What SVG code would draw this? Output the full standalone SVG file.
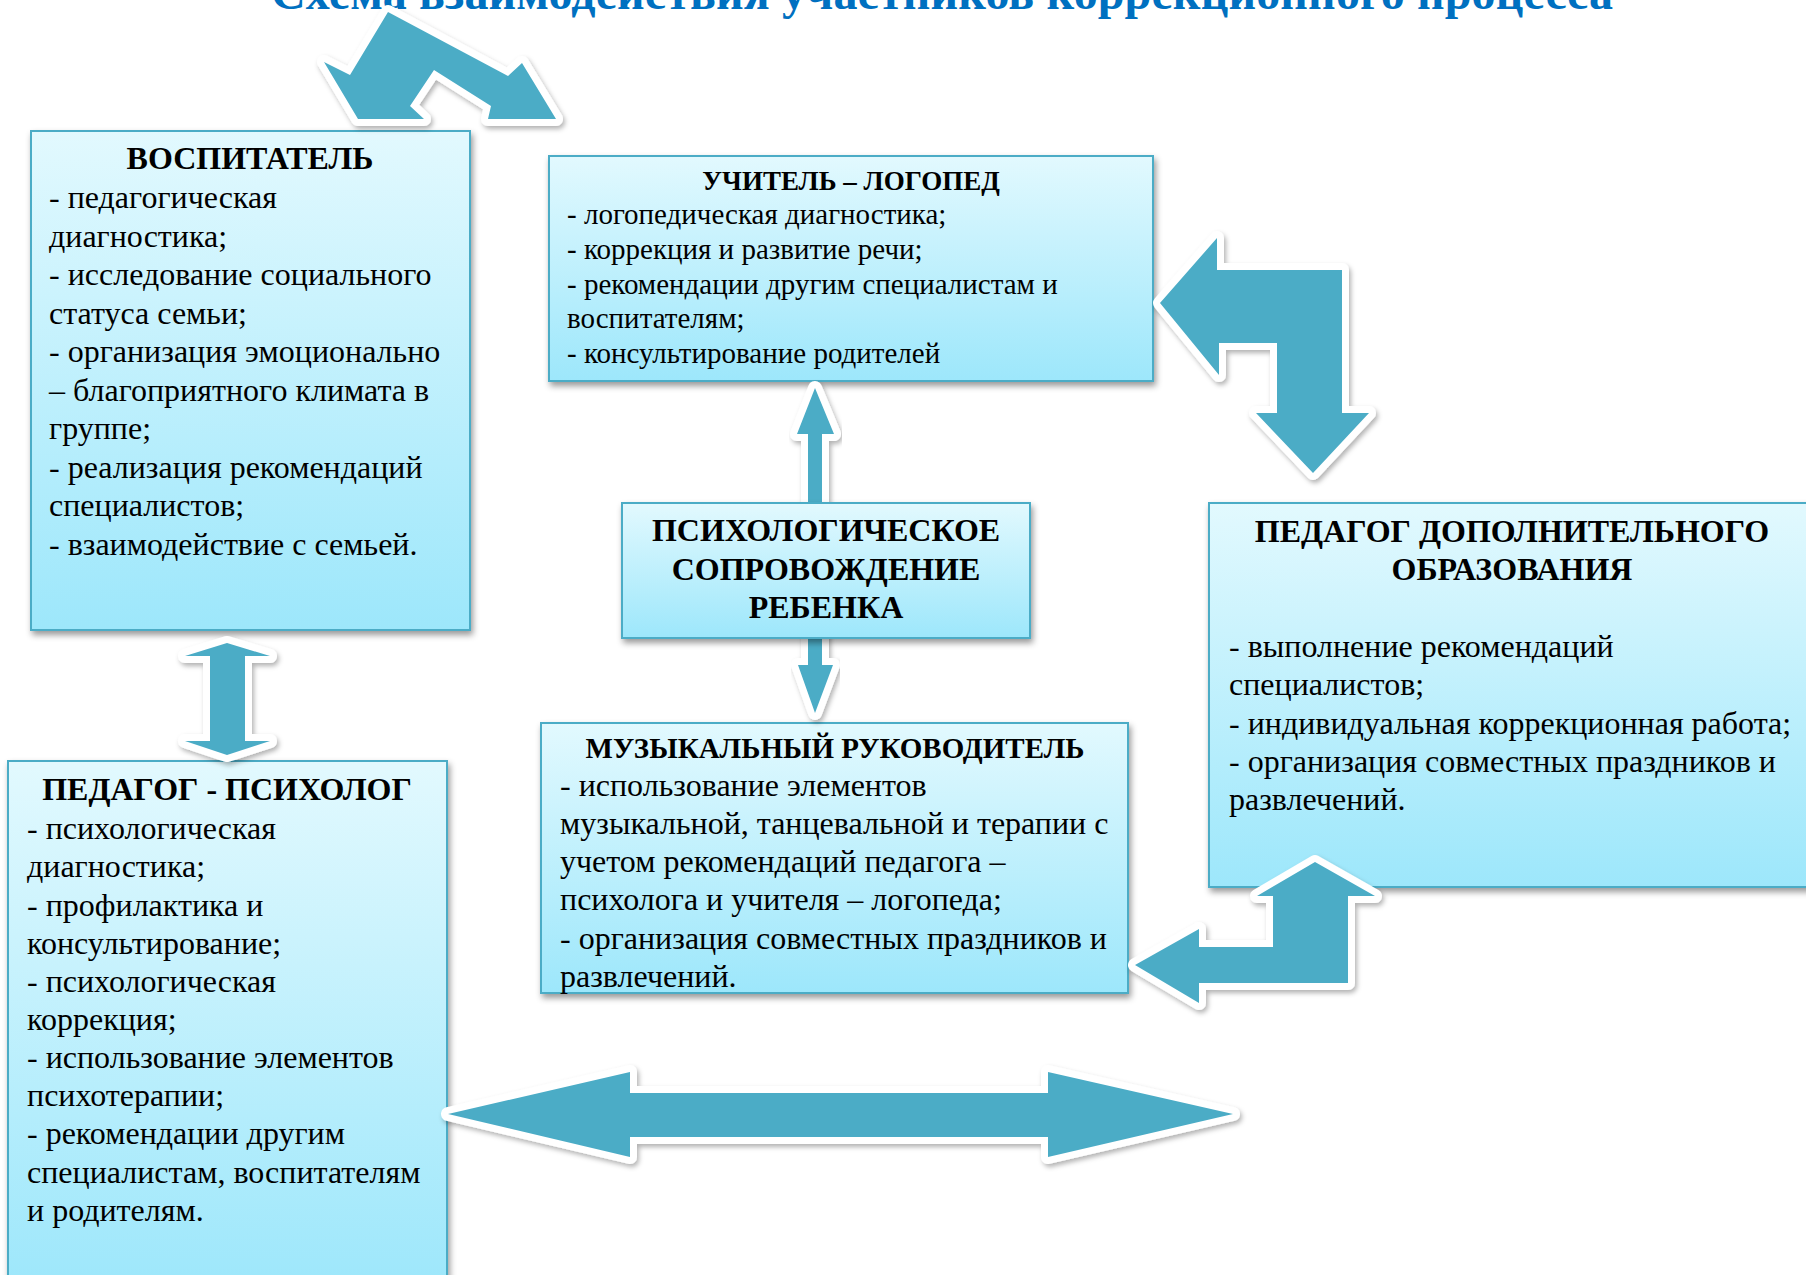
<svg xmlns="http://www.w3.org/2000/svg" width="1806" height="1275" viewBox="0 0 1806 1275">
<defs>
<linearGradient id="bg" x1="0" y1="0" x2="0" y2="1">
<stop offset="0" stop-color="#e2f9fe"/>
<stop offset="1" stop-color="#9de7fb"/>
</linearGradient>
<filter id="bs" x="-10%" y="-10%" width="120%" height="120%">
<feDropShadow dx="2" dy="4" stdDeviation="3" flood-color="#000" flood-opacity="0.4"/>
</filter>
<filter id="as" x="-20%" y="-20%" width="140%" height="140%">
<feDropShadow dx="2" dy="3" stdDeviation="2.5" flood-color="#000" flood-opacity="0.3"/>
</filter>
</defs>
<style>
.box{fill:url(#bg);stroke:#4bacc6;stroke-width:2;filter:url(#bs)}
.arr{fill:#4bacc6;stroke:#fff;stroke-width:14;stroke-linejoin:round;paint-order:stroke;filter:url(#as)}
.t{font-family:"Liberation Serif","Times New Roman",serif;fill:#000;font-size:32px}
.b{font-weight:bold}
.m{text-anchor:middle}
.s29{font-size:29px}
.ttl{font-family:"Liberation Serif","Times New Roman",serif;font-weight:bold;font-size:48px;fill:#0070c0}
</style>
<rect width="1806" height="1275" fill="#fff"/>
<text class="ttl" x="271" y="9" textLength="1342">Схема взаимодействия участников  коррекционного процесса</text>

<g id="vospitatel">
<rect class="box" x="31" y="131" width="439" height="499"/>
<text class="t b m" x="250" y="169">ВОСПИТАТЕЛЬ</text>
<text class="t" x="49" y="208">- педагогическая</text>
<text class="t" x="49" y="247">диагностика;</text>
<text class="t" x="49" y="285">- исследование социального</text>
<text class="t" x="49" y="324">статуса семьи;</text>
<text class="t" x="49" y="362">- организация эмоционально</text>
<text class="t" x="49" y="401">– благоприятного климата в</text>
<text class="t" x="49" y="439">группе;</text>
<text class="t" x="49" y="478">- реализация рекомендаций</text>
<text class="t" x="49" y="516">специалистов;</text>
<text class="t" x="49" y="555">- взаимодействие с семьей.</text>
</g>

<g id="logoped">
<rect class="box" x="549" y="156" width="604" height="225"/>
<text class="t b m" x="851" y="190" style="font-size:27px">УЧИТЕЛЬ – ЛОГОПЕД</text>
<text class="t s29" x="567" y="224">- логопедическая диагностика;</text>
<text class="t s29" x="567" y="259">- коррекция и развитие речи;</text>
<text class="t s29" x="567" y="294">- рекомендации другим специалистам и</text>
<text class="t s29" x="567" y="328">воспитателям;</text>
<text class="t s29" x="567" y="363">- консультирование родителей</text>
</g>

<g id="dop-obrazovanie">
<rect class="box" x="1209" y="503" width="610" height="384"/>
<text class="t b m" x="1512" y="542">ПЕДАГОГ ДОПОЛНИТЕЛЬНОГО</text>
<text class="t b m" x="1512" y="580">ОБРАЗОВАНИЯ</text>
<text class="t" x="1229" y="657">- выполнение рекомендаций</text>
<text class="t" x="1229" y="695">специалистов;</text>
<text class="t" x="1229" y="734">- индивидуальная коррекционная работа;</text>
<text class="t" x="1229" y="772">- организация совместных праздников и</text>
<text class="t" x="1229" y="810">развлечений.</text>
</g>

<g id="muzykalny">
<rect class="box" x="541" y="723" width="587" height="270"/>
<text class="t b m" x="835" y="758" style="font-size:29px">МУЗЫКАЛЬНЫЙ РУКОВОДИТЕЛЬ</text>
<text class="t" x="560" y="796">- использование элементов</text>
<text class="t" x="560" y="834">музыкальной, танцевальной и терапии с</text>
<text class="t" x="560" y="872">учетом рекомендаций педагога –</text>
<text class="t" x="560" y="910">психолога и учителя – логопеда;</text>
<text class="t" x="560" y="949">- организация совместных праздников и</text>
<text class="t" x="560" y="987">развлечений.</text>
</g>

<g id="psiholog">
<rect class="box" x="8" y="761" width="439" height="530"/>
<text class="t b m" x="227" y="800">ПЕДАГОГ - ПСИХОЛОГ</text>
<text class="t" x="27" y="839">- психологическая</text>
<text class="t" x="27" y="877">диагностика;</text>
<text class="t" x="27" y="916">- профилактика и</text>
<text class="t" x="27" y="954">консультирование;</text>
<text class="t" x="27" y="992">- психологическая</text>
<text class="t" x="27" y="1030">коррекция;</text>
<text class="t" x="27" y="1068">- использование элементов</text>
<text class="t" x="27" y="1106">психотерапии;</text>
<text class="t" x="27" y="1144">- рекомендации другим</text>
<text class="t" x="27" y="1183">специалистам, воспитателям</text>
<text class="t" x="27" y="1221">и родителям.</text>
</g>

<g id="connectors">
<polygon class="arr" points="388,12 508,76 522,63 556,119 488,119 491,106 434,70 410,106 424,119 358,119 324,62 350,75"/>
<polygon class="arr" points="1160,303 1217,238 1217,270 1342,270 1342,413 1369,413 1313,473 1256,413 1277,413 1277,343 1219,343 1219,375"/>
<polygon class="arr" points="1135,965 1199,929 1199,947 1273,947 1273,896 1257,896 1315,862 1375,896 1348,896 1348,983 1199,983 1199,1003"/>
<polygon class="arr" points="448,1114 630,1072 630,1093 1048,1093 1048,1072 1233,1114 1048,1157 1048,1137 630,1137 630,1157"/>
<polygon class="arr" points="227,643 270,656 245,656 245,741 270,741 227,755 185,741 210,741 210,656 185,656"/>
<polygon class="arr" points="815,388 834,434 822,434 822,510 808,510 808,434 797,434"/>
<polygon class="arr" points="808,630 822,630 822,665 833,665 815,713 798,665 808,665"/>
</g>

<g id="psih-soprovozhdenie">
<rect class="box" x="622" y="503" width="408" height="135"/>
<text class="t b m" x="826" y="541">ПСИХОЛОГИЧЕСКОЕ</text>
<text class="t b m" x="826" y="580">СОПРОВОЖДЕНИЕ</text>
<text class="t b m" x="826" y="618">РЕБЕНКА</text>
</g>
</svg>
